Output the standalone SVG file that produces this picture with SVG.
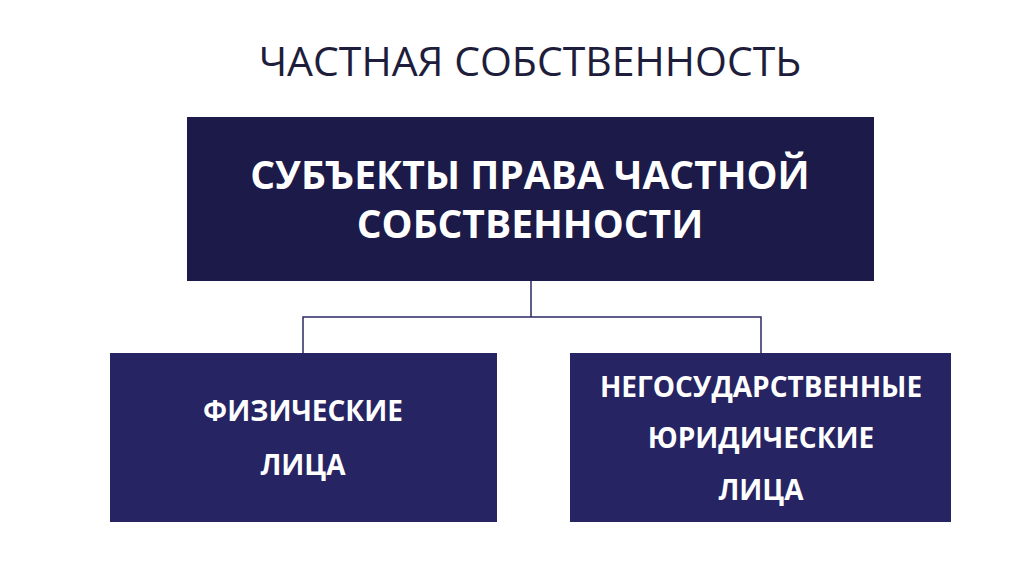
<svg xmlns="http://www.w3.org/2000/svg" width="1024" height="574" viewBox="0 0 1024 574">
<style>
.t{font-family:"Open Sans","DejaVu Sans Condensed",sans-serif;fill:#fff;font-weight:bold;text-anchor:middle}
.c{stroke:#2b2a66;stroke-width:1.5;fill:none}
</style>
<rect width="1024" height="574" fill="#fff"/>
<text x="530" y="76" font-family="Open Sans,sans-serif" font-size="41" fill="#1e1e3c" text-anchor="middle">ЧАСТНАЯ СОБСТВЕННОСТЬ</text>
<g id="connectors">
<path class="c" d="M531 281V317M303 353V317H761V353"/>
</g>
<g id="top">
<rect x="187" y="117" width="687" height="164" fill="#1b1a48"/>
<text class="t" x="530" y="189" font-size="39">СУБЪЕКТЫ ПРАВА ЧАСТНОЙ</text>
<text class="t" x="530" y="238" font-size="39">СОБСТВЕННОСТИ</text>
</g>
<g id="left">
<rect x="110" y="353" width="387" height="169" fill="#262463"/>
<text class="t" x="303" y="421" font-size="28">ФИЗИЧЕСКИЕ</text>
<text class="t" x="303" y="475" font-size="28">ЛИЦА</text>
</g>
<g id="right">
<rect x="570" y="353" width="381" height="169" fill="#262463"/>
<text class="t" x="761" y="397" font-size="28">НЕГОСУДАРСТВЕННЫЕ</text>
<text class="t" x="761" y="448" font-size="28">ЮРИДИЧЕСКИЕ</text>
<text class="t" x="761" y="500" font-size="28">ЛИЦА</text>
</g>
</svg>
